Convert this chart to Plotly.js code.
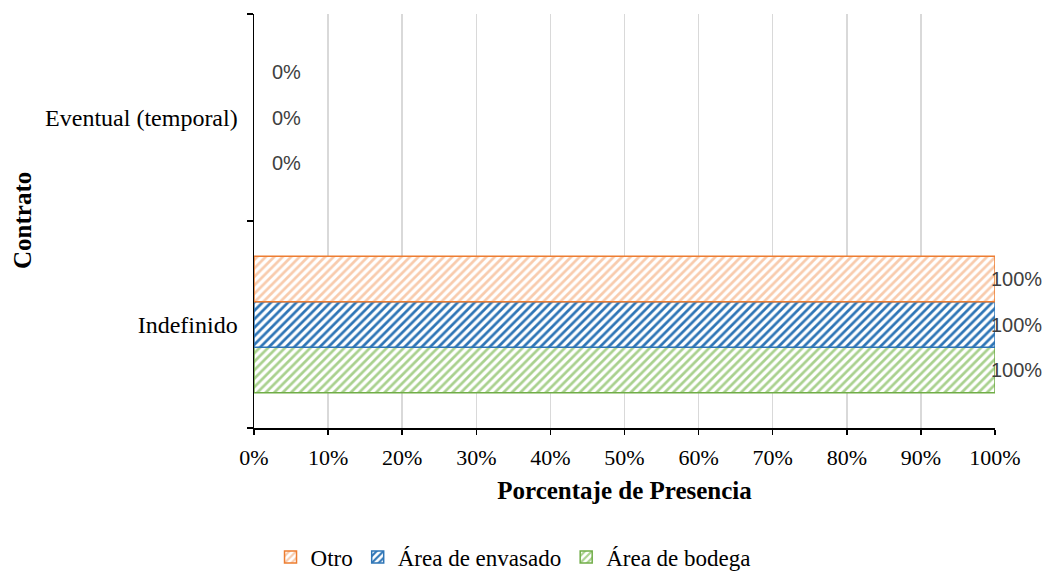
<!DOCTYPE html>
<html>
<head>
<meta charset="utf-8">
<script src="https://cdn.plot.ly/plotly-3.0.1.min.js"></script>
<style>html,body{margin:0;padding:0;background:#fff;}#chart{width:1047px;height:571px;}</style>
</head>
<body>
<div id="chart"></div>
<script>
const categories = ["Indefinido", "Eventual (temporal)"];
const otro = [100, 0];
const envasado = [100, 0];
const bodega = [100, 0];
const tickVals = [0, 10, 20, 30, 40, 50, 60, 70, 80, 90, 100];

const SERIF = 'Liberation Serif, Times New Roman, serif';
const BARGAP = 0.34;

const series = [
  {name: 'Área de bodega', vals: bodega, fg: '#a9d18e', line: '#70ad47'},
  {name: 'Área de envasado', vals: envasado, fg: '#2e75b6', line: '#2e75b6'},
  {name: 'Otro', vals: otro, fg: '#f8cbad', line: '#ed7d31'}
];

const data = series.map(s => ({
  type: 'bar', orientation: 'h', name: s.name,
  y: categories, x: s.vals,
  textposition: 'none', cliponaxis: false,
  hoverinfo: 'none',
  marker: {
    color: '#ffffff',
    line: {color: s.line, width: s.vals.map(v => v > 0 ? 1.5 : 0)},
    pattern: {shape: '/', fgcolor: s.fg, bgcolor: '#ffffff', size: 6, solidity: 0.45, fillmode: 'replace'}
  }
}));

// data labels placed at each bar's end, through the axes
const slot = (1 - BARGAP) / series.length;
const labels = [];
series.forEach((s, i) => {
  s.vals.forEach((v, j) => {
    labels.push({
      x: v, y: j + (i - (series.length - 1) / 2) * slot, xref: 'x', yref: 'y',
      text: v + '%', showarrow: false, xanchor: 'left', yanchor: 'middle',
      xshift: v > 0 ? -6 : 16,
      font: {family: 'Liberation Sans, Arial, sans-serif', size: 20, color: '#404040'}
    });
  });
});

const layout = {
  width: 1047, height: 571,
  margin: {l: 254, r: 52, t: 14, b: 143},
  paper_bgcolor: '#fff', plot_bgcolor: '#fff',
  barmode: 'group', bargap: BARGAP, bargroupgap: 0,
  font: {family: SERIF, size: 22, color: '#000'},
  showlegend: true,
  legend: {orientation: 'h', traceorder: 'reversed', xref: 'container', yref: 'container',
           x: 0.49, xanchor: 'center', y: 14 / 571, yanchor: 'middle',
           font: {family: SERIF, size: 23, color: '#000'}, itemwidth: 30, tracegroupgap: 0},
  xaxis: {
    range: [0, 100], tickvals: tickVals, ticktext: tickVals.map(v => v + '%'),
    showgrid: true, gridcolor: '#d9d9d9', gridwidth: 1.5, zeroline: false,
    showline: true, linecolor: '#000', linewidth: 1.5,
    ticks: 'outside', ticklen: 5, tickcolor: '#000', tickwidth: 1.5, tickfont: {size: 22},
    ticklabelstandoff: 4,
    title: {text: '<b>Porcentaje de Presencia</b>', font: {size: 25}, standoff: 12},
    automargin: false, fixedrange: true
  },
  yaxis: {
    showline: true, linecolor: '#000', linewidth: 1.5, ticks: 'outside', ticklen: 6, tickcolor: '#000', tickwidth: 1.5,
    tickson: 'boundaries', showgrid: false, zeroline: false, tickfont: {size: 24},
    ticklabelstandoff: 10,
    automargin: false, fixedrange: true
  },
  annotations: labels.concat([{
    text: '<b>Contrato</b>', xref: 'paper', yref: 'paper', x: (22 - 254) / 741, y: 0.5,
    textangle: -90, showarrow: false, xanchor: 'center', yanchor: 'middle',
    font: {family: SERIF, size: 25, color: '#000'}
  }])
};

Plotly.newPlot('chart', data, layout, {displayModeBar: false, staticPlot: true});
</script>
</body>
</html>
